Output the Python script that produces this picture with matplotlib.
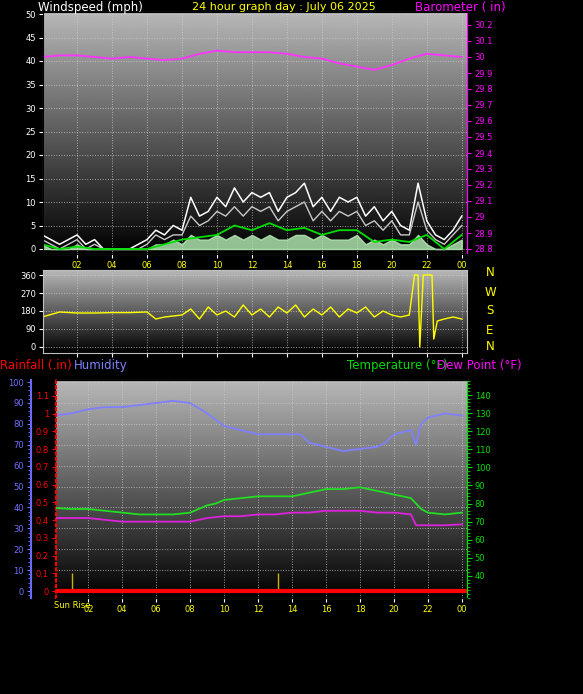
import numpy as np
import matplotlib
matplotlib.use("Agg")
import matplotlib.pyplot as plt
from matplotlib.ticker import MultipleLocator

# ---- data ----
half_hours = [h * 0.5 for h in range(49)]
wind_gust = [3, 2, 1, 2, 3, 1, 2, 0, 0, 0, 0, 1, 2, 4, 3, 5, 4, 11, 7, 8, 11, 9, 13, 10, 12,
             11, 12, 8, 11, 12, 14, 9, 11, 8, 11, 10, 11, 7, 9, 6, 8, 5, 4, 14, 6, 3, 2, 4, 7]
wind_speed = [2, 1, 0, 1, 2, 0, 1, 0, 0, 0, 0, 0, 1, 3, 2, 3, 3, 7, 5, 6, 8, 7, 9, 7, 9,
              8, 9, 6, 8, 9, 10, 6, 8, 6, 8, 7, 8, 5, 6, 4, 6, 3, 3, 10, 4, 2, 1, 3, 5]
wind_low = [1, 0, 0, 0, 1, 0, 0, 0, 0, 0, 0, 0, 0, 1, 1, 2, 1, 3, 2, 2, 3, 2, 3, 2, 3,
            2, 3, 2, 2, 3, 3, 2, 3, 2, 2, 2, 3, 1, 2, 1, 2, 1, 1, 3, 1, 0, 0, 1, 2]

hours = list(range(25))
wind_avg = [1, 0, 0.5, 0, 0, 0, 0, 1, 2, 2.5, 3, 5, 4, 5.5, 4, 4.5, 3, 4, 4, 1.5, 2, 1.5, 3, 0, 3]
barometer = [30.00, 30.01, 30.01, 30.00, 29.99, 30.00, 29.99, 29.98, 29.99, 30.02, 30.04, 30.03, 30.03,
             30.03, 30.02, 30.00, 29.99, 29.96, 29.94, 29.92, 29.95, 29.99, 30.02, 30.01, 30.00]

dir_hours = [0, 1, 2, 3, 4, 5, 6, 6.5, 7, 8, 8.5, 9, 9.5, 10, 10.5, 11, 11.5, 12, 12.5, 13, 13.5, 14,
             14.5, 15, 15.5, 16, 16.5, 17, 17.5, 18, 18.5, 19, 19.5, 20, 20.5, 21, 21.3, 21.5, 21.6,
             21.8, 22.3, 22.4, 22.6, 23, 23.5, 24]
direction = [150, 175, 170, 170, 172, 172, 175, 140, 150, 160, 190, 140, 200, 160, 180, 150, 210, 160,
             190, 150, 200, 170, 210, 150, 190, 160, 200, 150, 190, 170, 200, 150, 180, 160, 150, 160,
             360, 360, 0, 360, 360, 40, 130, 140, 150, 140]

th_hours = [0, 1, 2, 3, 4, 5, 6, 7, 8, 9, 9.5, 10, 11, 12, 13, 14, 14.5, 15, 16, 17, 18, 19, 19.5,
            20, 21, 21.3, 21.6, 22, 23, 24]
humidity = [84, 85, 87, 88, 88, 89, 90, 91, 90, 85, 82, 79, 77, 75, 75, 75, 75, 71, 69, 67, 68, 69,
            71, 75, 77, 70, 80, 83, 85, 84]
temperature = [77.6, 77, 77, 76, 75, 74, 74, 74, 75, 79, 80, 82, 83, 84, 84, 84, 85, 86, 88, 88, 89,
               87, 86, 85, 83, 80, 77, 75, 74, 75]
dew_point = [72, 72, 72, 71, 70, 70, 70, 70, 70, 72, 72.5, 73, 73, 74, 74, 75, 75, 75, 76, 76, 76,
             75, 75, 75, 74, 68, 68, 68, 68, 68.5]
rain_hours = [0, 24.3]
rainfall = [0, 0]
sun_marks = [1.06, 13.2]

W, H = 583, 694
fig = plt.figure(figsize=(W / 100, H / 100), dpi=100, facecolor="black")


def px_axes(x0, y0, x1, y1):
    return fig.add_axes([x0 / W, 1 - y1 / H, (x1 - x0) / W, (y1 - y0) / H])


grad = np.linspace(0.72, 0.0, 256).reshape(-1, 1)


def style(ax):
    ax.set_facecolor("black")
    ax.imshow(grad, cmap="gray", vmin=0, vmax=1, aspect="auto", extent=[0, 1, 0, 1],
              transform=ax.transAxes, zorder=0)
    ax.grid(True, color="#d0d0d0", linestyle=":", linewidth=0.7, alpha=0.7)
    for s in ax.spines.values():
        s.set_color("#c0c0c0")
    ax.tick_params(colors="white", labelsize=6, length=3, pad=2)


xt = list(range(2, 25, 2))
xl = ["%02d" % (h % 24) for h in xt]

# ---- top panel: wind and barometer ----
ax = px_axes(43, 12, 467, 254)
style(ax)
ax.set_xlim(0.05, 24.3)
ax.set_ylim(-5 / 4.7, 50 + 2 / 4.7)
ax.yaxis.set_major_locator(MultipleLocator(5))
ax.set_xticks(xt)
ax.set_xticklabels(xl, color="yellow")
ax.plot(half_hours, wind_gust, color="white", lw=1.1, zorder=3)
ax.plot(half_hours, wind_speed, color="#c8c8c8", lw=1.0, zorder=3)
ax.fill_between(half_hours, 0, wind_low, color="#b8f0b8", alpha=0.8, zorder=4)
ax.plot(hours, wind_avg, color="#00dd00", lw=1.3, zorder=5)
axb = ax.twinx()
axb.set_ylim(28.8 - 5 / 160, 28.8 + 237 / 160)
axb.set_yticks([round(28.8 + 0.1 * i, 1) for i in range(15)])
axb.set_yticklabels(["%g" % round(28.8 + 0.1 * i, 1) for i in range(15)])
axb.tick_params(colors="magenta", labelsize=6, length=3, pad=2)
axb.spines["right"].set_color("magenta")
axb.plot(hours, barometer, color="#ff33ff", lw=1.3)
fig.text(38 / W, 1 - 8 / H, "Windspeed (mph)", color="white", fontsize=8.5, va="center")
fig.text(192 / W, 1 - 7 / H, "24 hour graph day : July 06 2025", color="yellow", fontsize=8, va="center")
fig.text(415 / W, 1 - 8 / H, "Barometer ( in)", color="magenta", fontsize=8.5, va="center")

# ---- direction panel ----
ad = px_axes(43, 270, 467, 353)
style(ad)
ad.set_xlim(0.05, 24.3)
ad.set_ylim(-30, 385)
ad.set_yticks([0, 90, 180, 270, 360])
ad.set_xticks(xt)
ad.set_xticklabels([])
ad.plot(dir_hours, direction, color="yellow", lw=1.0)
for lab, y in zip(["N", "W", "S", "E", "N"], [273, 292, 311, 330, 347]):
    fig.text(490 / W, 1 - y / H, lab, color="yellow", fontsize=8.5, ha="center", va="center")

# ---- bottom panel: humidity, rain, temperature ----
ah = px_axes(56, 380, 467, 598)
style(ah)
ah.set_xlim(0.1, 24.3)
ah.set_ylim(-3.35, 101)
ah.set_yticks(range(0, 101, 10))
ah.yaxis.set_minor_locator(MultipleLocator(2))
ah.spines["left"].set_position(("outward", 18))
ah.spines["left"].set_color("#6a6aff")
ah.spines["left"].set_linewidth(1.5)
ah.tick_params(axis="y", which="both", colors="#7070ff")
ah.tick_params(axis="y", which="minor", length=2)
ah.set_xticks(xt)
ah.set_xticklabels(xl, color="yellow")
ah.plot(th_hours, humidity, color="#8080ff", lw=1.3, zorder=3)

ar = ah.twinx()
ar.set_ylim(-0.039, 1.19)
ar.yaxis.set_ticks_position("left")
ar.spines["left"].set_visible(True)
ar.spines["left"].set_color("red")
ar.spines["left"].set_linestyle(":")
ar.spines["left"].set_linewidth(1.5)
ar.spines["right"].set_visible(False)
ar.set_yticks([round(0.1 * i, 1) for i in range(12)])
ar.set_yticklabels(["0"] + ["%g" % round(0.1 * i, 1) for i in range(1, 12)])
ar.tick_params(colors="red", labelsize=6, length=3, pad=2)
ar.plot(rain_hours, rainfall, color="red", lw=3, zorder=5)
ar.vlines(sun_marks, 0, 0.1, color="#c8b400", lw=1)

at = ah.twinx()
at.set_ylim(27.8, 148.3)
at.set_yticks(range(40, 141, 10))
at.yaxis.set_minor_locator(MultipleLocator(2))
at.tick_params(axis="y", which="both", colors="#00dd00", labelsize=6, pad=2)
at.tick_params(axis="y", which="minor", length=2)
at.spines["right"].set_color("#00dd00")
at.spines["left"].set_visible(False)
at.plot(th_hours, temperature, color="#22dd22", lw=1.3)
at.plot(th_hours, dew_point, color="#dd22dd", lw=1.3)

fig.text(54 / W, 1 - 605 / H, "Sun Rise", color="yellow", fontsize=6, va="center")
fig.text(0, 1 - 365 / H, "Rainfall (.in)", color="red", fontsize=8.5, va="center")
fig.text(74 / W, 1 - 365 / H, "Humidity", color="#8080ff", fontsize=8.5, va="center")
fig.text(347 / W, 1 - 365 / H, "Temperature (°F)", color="#00dd00", fontsize=8.5, va="center")
fig.text(437 / W, 1 - 365 / H, "Dew Point (°F)", color="magenta", fontsize=8.5, va="center")

fig.savefig("out.png", dpi=100, facecolor="black")
